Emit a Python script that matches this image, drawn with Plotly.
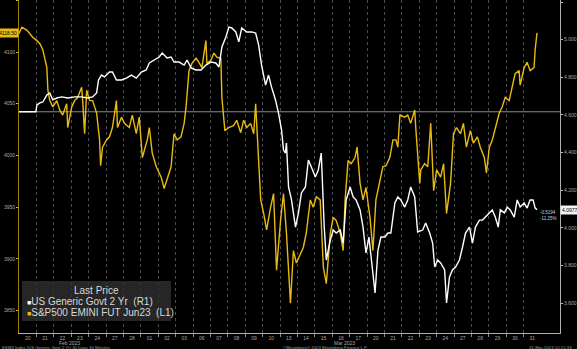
import plotly.graph_objects as go

# Trading-day labels (Feb 20 .. Mar 31, 2023); x positions are trading-day index + intraday fraction
DAY_LABELS = ["20", "21", "22", "23", "24", "27", "28", "01", "02", "03",
              "06", "07", "08", "09", "10", "13", "14", "15", "16", "17",
              "20", "21", "22", "23", "24", "27", "28", "29", "30", "31"]
MONTH_LABELS = ["Feb 2023", "Mar 2023"]
MONTH_POS = [2.9, 18.7]

# S&P500 E-mini Jun23 (left axis)
SPX_T = [0.00, 0.17, 0.46, 0.63, 0.80, 1.03, 1.20, 1.37, 1.49, 1.60,
         1.66, 1.77, 1.94, 2.17, 2.34, 2.51, 2.74, 2.80, 3.03, 3.20,
         3.37, 3.60, 3.66, 3.77, 3.89, 4.06, 4.23, 4.46, 4.63, 4.69,
         4.80, 5.03, 5.20, 5.37, 5.60, 5.66, 5.89, 6.06, 6.34, 6.51,
         6.74, 6.91, 7.09, 7.37, 7.49, 7.66, 7.89, 8.17, 8.34, 8.51,
         8.74, 8.91, 9.09, 9.31, 9.49, 9.60, 9.77, 9.94, 10.17, 10.34,
         10.51, 10.74, 10.80, 11.03, 11.20, 11.37, 11.60, 11.66, 11.83, 12.06,
         12.34, 12.51, 12.74, 12.91, 13.09, 13.31, 13.49, 13.60, 13.71, 13.89,
         14.06, 14.23, 14.46, 14.63, 14.80, 15.03, 15.20, 15.37, 15.60, 15.77,
         15.94, 16.17, 16.34, 16.51, 16.74, 16.91, 17.09, 17.31, 17.49, 17.66,
         17.89, 18.06, 18.23, 18.46, 18.63, 18.74, 18.91, 19.09, 19.31, 19.43,
         19.60, 19.77, 19.94, 20.17, 20.34, 20.51, 20.74, 20.91, 21.09, 21.31,
         21.49, 21.66, 21.77, 21.89, 22.17, 22.34, 22.51, 22.74, 22.80, 23.03,
         23.09, 23.31, 23.49, 23.66, 23.83, 24.00, 24.23, 24.40, 24.57, 24.80,
         24.97, 25.14, 25.37, 25.54, 25.71, 25.94, 26.11, 26.34, 26.51, 26.74,
         26.86, 27.03, 27.20, 27.37, 27.60, 27.77, 27.94, 28.17, 28.34, 28.51,
         28.74, 28.80, 29.03, 29.20, 29.37, 29.60, 29.66, 29.77]
SPX_V = [4118, 4124, 4121, 4118, 4114, 4111, 4108, 4102, 4094, 4085,
         4063, 4053, 4047, 4053, 4044, 4039, 4050, 4027, 4047, 4053,
         4056, 4066, 4053, 4021, 4063, 4053, 4053, 4041, 4015, 3990,
         4008, 4015, 4018, 4027, 4053, 4027, 4037, 4031, 4027, 4039,
         4021, 4037, 3998, 4015, 4027, 4002, 3989, 3979, 3968, 3976,
         3989, 4021, 4015, 4018, 4031, 4047, 4082, 4089, 4094, 4090,
         4085, 4111, 4089, 4092, 4099, 4095, 4094, 4056, 4024, 4027,
         4029, 4034, 4022, 4034, 4027, 4031, 4021, 4050, 4015, 3957,
         3944, 3928, 3950, 3963, 3889, 3937, 3963, 3925, 3857, 3908,
         3896, 3905, 3911, 3925, 3957, 3950, 3960, 3957, 3892, 3876,
         3925, 3940, 3937, 3925, 3908, 3957, 3995, 3992, 3998, 4008,
         3973, 3957, 3969, 3940, 3908, 3957, 3976, 3989, 3990, 3998,
         4015, 4015, 4008, 4039, 4037, 4039, 4031, 4044, 4027, 3973,
         3986, 3992, 3989, 4031, 3966, 3986, 3979, 3992, 3944, 3973,
         4021, 4027, 4021, 4031, 4008, 4024, 4012, 4018, 4008, 3998,
         3983, 4008, 4015, 4027, 4041, 4047, 4056, 4053, 4066, 4079,
         4082, 4068, 4085, 4090, 4082, 4085, 4102, 4118.5]

# US Generic Govt 2 Yr yield (right axis)
UST_T = [0.00, 0.97, 1.03, 1.20, 1.37, 1.60, 1.77, 1.94, 2.17, 2.46,
         2.80, 3.20, 3.60, 3.94, 4.23, 4.46, 4.57, 4.74, 4.91, 5.20,
         5.37, 5.60, 5.89, 6.17, 6.46, 6.74, 7.03, 7.31, 7.49, 7.77,
         8.06, 8.23, 8.51, 8.74, 8.91, 9.20, 9.49, 9.66, 9.89, 10.17,
         10.46, 10.74, 11.03, 11.31, 11.49, 11.66, 11.89, 12.06, 12.23, 12.46,
         12.63, 12.80, 13.09, 13.37, 13.60, 13.77, 13.94, 14.17, 14.34, 14.51,
         14.74, 14.91, 15.09, 15.20, 15.31, 15.37, 15.49, 15.66, 15.89, 16.06,
         16.23, 16.46, 16.63, 16.80, 17.03, 17.20, 17.37, 17.54, 17.66, 17.89,
         18.06, 18.23, 18.46, 18.63, 18.80, 19.03, 19.20, 19.37, 19.60, 19.77,
         19.94, 20.11, 20.29, 20.46, 20.63, 20.80, 21.03, 21.20, 21.37, 21.60,
         21.77, 21.94, 22.17, 22.34, 22.51, 22.74, 22.91, 23.20, 23.37, 23.60,
         23.77, 23.89, 24.06, 24.23, 24.46, 24.51, 24.57, 24.74, 24.91, 25.09,
         25.31, 25.49, 25.66, 25.89, 26.06, 26.23, 26.46, 26.63, 26.80, 27.03,
         27.20, 27.37, 27.54, 27.66, 27.89, 28.06, 28.23, 28.46, 28.63, 28.80,
         29.03, 29.20, 29.37, 29.54, 29.66, 29.77]
UST_V = [4.6171, 4.6171, 4.653, 4.664, 4.669, 4.706, 4.717, 4.680, 4.690, 4.696,
         4.690, 4.696, 4.696, 4.690, 4.696, 4.717, 4.786, 4.812, 4.802, 4.828,
         4.828, 4.786, 4.786, 4.796, 4.812, 4.796, 4.828, 4.839, 4.876, 4.892,
         4.908, 4.929, 4.903, 4.908, 4.881, 4.881, 4.865, 4.892, 4.850, 4.839,
         4.839, 4.865, 4.881, 4.876, 4.855, 4.961, 5.014, 5.067, 5.062, 5.041,
         4.988, 5.062, 5.041, 5.041, 5.035, 4.972, 4.865, 4.759, 4.812, 4.749,
         4.680, 4.611, 4.520, 4.414, 4.398, 4.451, 4.218, 4.149, 4.005, 4.080,
         4.186, 4.218, 4.361, 4.324, 4.271, 4.308, 4.398, 4.005, 3.830, 3.936,
         3.989, 3.973, 3.989, 3.920, 4.149, 4.218, 4.165, 4.149, 4.096, 4.005,
         3.867, 3.952, 3.793, 3.655, 3.883, 3.952, 3.952, 3.973, 3.973, 4.133,
         4.165, 4.149, 4.111, 4.149, 4.218, 4.165, 3.979, 3.989, 4.027, 3.973,
         3.920, 3.793, 3.830, 3.814, 3.777, 3.655, 3.602, 3.740, 3.777, 3.793,
         3.830, 3.899, 3.973, 4.005, 3.920, 4.005, 4.042, 4.042, 4.058, 4.080,
         4.096, 4.058, 4.005, 4.096, 4.080, 4.111, 4.096, 4.058, 4.149, 4.111,
         4.133, 4.106, 4.149, 4.149, 4.106, 4.0977]

LEFT_TICKS = [3850, 3900, 3950, 4000, 4050, 4100, 4150]
RIGHT_TICKS = [3.6, 3.8, 4.0, 4.2, 4.4, 4.6, 4.8, 5.0, 5.2]

NAME_UST = "US Generic Govt 2 Yr\u00a0 (R1)"
NAME_SPX = "S&P500 EMINI FUT Jun23\u00a0 (L1)"

YELLOW = "#e9bb10"
WHITE = "#ffffff"
GREY = "#a8a8a8"
FONT = "Liberation Sans"

fig = go.Figure()
fig.add_trace(go.Scatter(x=SPX_T, y=SPX_V, mode="lines", name=NAME_SPX, yaxis="y",
                         line=dict(color=YELLOW, width=1.4), showlegend=False))
fig.add_trace(go.Scatter(x=UST_T, y=UST_V, mode="lines", name=NAME_UST, yaxis="y2",
                         line=dict(color=WHITE, width=1.4), showlegend=False))

# start-value reference line for the 2Y yield
fig.add_shape(type="line", xref="paper", x0=0, x1=1, yref="y2",
              y0=UST_V[0], y1=UST_V[0], line=dict(color="#8a8a8a", width=1), layer="below")

# legend box
fig.add_shape(type="rect", xref="paper", yref="paper", x0=0.0055, x1=0.281, y0=0.036, y1=0.156,
              fillcolor="rgba(48,48,48,0.8)", line=dict(width=0), layer="above")

annotations = [
    dict(text="Last Price", xref="paper", yref="paper", x=0.143, y=0.129, xanchor="center",
         yanchor="middle", showarrow=False, font=dict(size=10, color="#d8d8d8", family=FONT)),
    dict(text="<span style='font-size:7px;color:#ffffff'>■</span>" + NAME_UST,
         xref="paper", yref="paper", x=0.012, y=0.096, xanchor="left", yanchor="middle",
         showarrow=False, font=dict(size=10, color="#d8d8d8", family=FONT)),
    dict(text="<span style='font-size:7px;color:" + YELLOW + "'>■</span>" + NAME_SPX,
         xref="paper", yref="paper", x=0.012, y=0.063, xanchor="left", yanchor="middle",
         showarrow=False, font=dict(size=10, color="#d8d8d8", family=FONT)),
]

# last-value tags
chg = UST_V[-1] - UST_V[0]
pct = chg / UST_V[0] * 100
annotations += [
    dict(text=f"{SPX_V[-1]:.2f}", xref="paper", x=0, xanchor="right", yref="y", y=SPX_V[-1],
         yanchor="middle", showarrow=False, bgcolor=YELLOW, borderpad=1,
         font=dict(size=5, color="#000000", family=FONT)),
    dict(text=f"{UST_V[-1]:.4f}", xref="paper", x=1, xanchor="left", yref="y2", y=UST_V[-1],
         yanchor="middle", showarrow=False, bgcolor="#f2f2f2", borderpad=1,
         font=dict(size=5, color="#000000", family=FONT)),
    dict(text=f"{chg:+.4f}", xref="paper", x=0.996, xanchor="right", yref="y2", y=UST_V[-1],
         yanchor="middle", yshift=-3, showarrow=False, font=dict(size=4.5, color="#cfcfcf", family=FONT)),
    dict(text=f"{pct:+.2f}%", xref="paper", x=0.996, xanchor="right", yref="y2", y=UST_V[-1],
         yanchor="middle", yshift=-9, showarrow=False, font=dict(size=4.5, color="#cfcfcf", family=FONT)),
]

# month labels
for lab, pos in zip(MONTH_LABELS, MONTH_POS):
    annotations.append(dict(text=lab, xref="x", x=pos, yref="paper", y=-0.031, xanchor="center",
                            yanchor="middle", showarrow=False,
                            font=dict(size=5, color=GREY, family=FONT)))

# footer
annotations += [
    dict(text="ESM3 Index (US Generic Govt 2 Yr) 30 Days 30 Minutes", xref="paper", x=-0.035,
         xanchor="left", yref="paper", y=-0.043, yanchor="middle", showarrow=False,
         font=dict(size=4.3, color="#9a9a9a", family=FONT)),
    dict(text="©Bloomberg® 2023 Bloomberg Finance L.P.", xref="paper", x=0.485, xanchor="left",
         yref="paper", y=-0.043, yanchor="middle", showarrow=False,
         font=dict(size=4.3, color="#9a9a9a", family=FONT)),
    dict(text="31-Mar-2023 10:15:33", xref="paper", x=1.026, xanchor="right",
         yref="paper", y=-0.043, yanchor="middle", showarrow=False,
         font=dict(size=4.3, color="#9a9a9a", family=FONT)),
]

fig.update_layout(
    width=577, height=349,
    margin=dict(l=19, r=14, t=0, b=16),
    paper_bgcolor="#000000", plot_bgcolor="#000000",
    showlegend=False,
    font=dict(family=FONT, color=GREY, size=5),
    annotations=annotations,
    xaxis=dict(
        range=[0, 31.09],
        tickmode="array",
        tickvals=[i + 0.5 for i in range(len(DAY_LABELS))],
        ticktext=DAY_LABELS,
        ticks="", tickfont=dict(size=5, color=GREY),
        showgrid=False, zeroline=False,
        showline=True, linecolor="#b0b0b0", linewidth=1,
        minor=dict(tickmode="array", tickvals=list(range(1, len(DAY_LABELS))),
                   showgrid=True, gridcolor="#4c4c4c", griddash="3px,3px", gridwidth=1,
                   ticks="outside", ticklen=3, tickcolor="#888888"),
    ),
    yaxis=dict(
        range=[3828.3, 4150.3],
        tickmode="array", tickvals=LEFT_TICKS,
        ticks="outside", ticklen=2, tickcolor=YELLOW,
        tickfont=dict(size=5, color=GREY),
        showgrid=False, zeroline=False,
        showline=True, linecolor="#9c8000", linewidth=1,
    ),
    yaxis2=dict(
        range=[3.4424, 5.2106],
        overlaying="y", side="right",
        tickmode="array", tickvals=RIGHT_TICKS, tickformat=".3f",
        ticks="outside", ticklen=2, tickcolor="#bbbbbb",
        tickfont=dict(size=5, color=GREY),
        showgrid=False, zeroline=False,
        showline=True, linecolor="#b0b0b0", linewidth=1,
    ),
)

fig.write_html("out.html")
